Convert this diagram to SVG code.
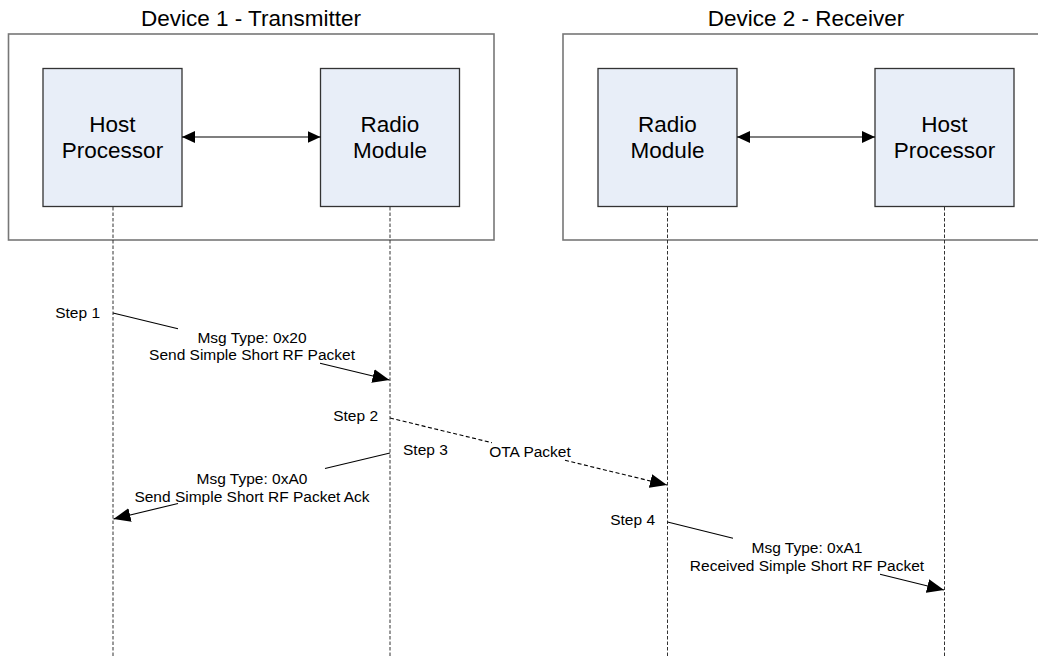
<svg xmlns="http://www.w3.org/2000/svg" width="1038" height="658" viewBox="0 0 1038 658">
<style>
  text { font-family: "Liberation Sans", Arial, sans-serif; fill: #000; }
  .title { font-size: 22.5px; text-anchor: middle; }
  .big { font-size: 22.5px; text-anchor: middle; }
  .small { font-size: 15.5px; }
  .mid { text-anchor: middle; }
  .end { text-anchor: end; }
  .frame { fill: #fff; stroke: #777; stroke-width: 1.6; }
  .box { fill: #e8eef8; stroke: #333; stroke-width: 1.3; }
  .life { stroke: #333; stroke-width: 1; stroke-dasharray: 3.5 2; fill: none; }
  .msg { stroke: #000; stroke-width: 1.1; fill: none; }
  .dash { stroke-dasharray: 4 2.5; }
</style>
<defs>
  <marker id="ah" markerUnits="userSpaceOnUse" markerWidth="18" markerHeight="14" refX="17" refY="7" orient="auto-start-reverse">
    <path d="M0,0 L17,7 L0,14 z" fill="#000"/>
  </marker>
  <marker id="ah2" markerUnits="userSpaceOnUse" markerWidth="14" markerHeight="12" refX="13" refY="6" orient="auto-start-reverse">
    <path d="M0,0 L13,6 L0,12 z" fill="#000"/>
  </marker>
</defs>
<rect width="1038" height="658" fill="#fff"/>

<g id="device1">
  <text class="title" x="251" y="26">Device 1 - Transmitter</text>
  <rect class="frame" x="8.5" y="34" width="485.5" height="206"/>
</g>
<g id="device2">
  <text class="title" x="806" y="26">Device 2 - Receiver</text>
  <rect class="frame" x="563" y="34" width="486" height="206"/>
</g>

<g id="host1">
  <rect class="box" x="43" y="68.5" width="139" height="138"/>
  <text class="big" x="112.5" y="132">Host</text>
  <text class="big" x="112.5" y="158">Processor</text>
</g>
<g id="radio1">
  <rect class="box" x="320.5" y="68.5" width="139" height="138"/>
  <text class="big" x="390" y="132">Radio</text>
  <text class="big" x="390" y="158">Module</text>
</g>
<g id="radio2">
  <rect class="box" x="598" y="68.5" width="139" height="138"/>
  <text class="big" x="667.5" y="132">Radio</text>
  <text class="big" x="667.5" y="158">Module</text>
</g>
<g id="host2">
  <rect class="box" x="875" y="68.5" width="139" height="138"/>
  <text class="big" x="944.5" y="132">Host</text>
  <text class="big" x="944.5" y="158">Processor</text>
</g>

<g id="connectors">
  <line class="msg" x1="182" y1="137" x2="320.5" y2="137" marker-start="url(#ah2)" marker-end="url(#ah2)"/>
  <line class="msg" x1="737" y1="137" x2="875" y2="137" marker-start="url(#ah2)" marker-end="url(#ah2)"/>

  <line class="life" x1="113" y1="207" x2="113" y2="658"/>
  <line class="life" x1="390" y1="207" x2="390" y2="658"/>
  <line class="life" x1="667.5" y1="207" x2="667.5" y2="658"/>
  <line class="life" x1="944.5" y1="207" x2="944.5" y2="658"/>

  <!-- Step 1 -->
  <line class="msg" x1="113" y1="313" x2="178" y2="328.8"/>
  <line class="msg" x1="320" y1="363.3" x2="389.5" y2="380" marker-end="url(#ah)"/>
  <!-- Step 2 -->
  <line class="msg dash" x1="390" y1="418" x2="492" y2="442.7"/>
  <line class="msg dash" x1="565" y1="460.3" x2="667" y2="485" marker-end="url(#ah)"/>
  <!-- Step 3 -->
  <line class="msg" x1="390" y1="453" x2="325" y2="468.5"/>
  <line class="msg" x1="178" y1="503.5" x2="113.5" y2="519" marker-end="url(#ah)"/>
  <!-- Step 4 -->
  <line class="msg" x1="667.5" y1="522" x2="733" y2="538.2"/>
  <line class="msg" x1="880" y1="574.3" x2="944" y2="590" marker-end="url(#ah)"/>
</g>

<g id="labels">
  <text class="small end" x="100" y="318">Step 1</text>
  <text class="small mid" x="252" y="343">Msg Type: 0x20</text>
  <text class="small mid" x="252" y="360">Send Simple Short RF Packet</text>

  <text class="small end" x="378" y="421">Step 2</text>
  <text class="small mid" x="530" y="457">OTA Packet</text>

  <text class="small" x="403" y="455">Step 3</text>
  <text class="small mid" x="252" y="484">Msg Type: 0xA0</text>
  <text class="small mid" x="252" y="502">Send Simple Short RF Packet Ack</text>

  <text class="small end" x="655" y="525">Step 4</text>
  <text class="small mid" x="807" y="553">Msg Type: 0xA1</text>
  <text class="small mid" x="807" y="571">Received Simple Short RF Packet</text>
</g>
</svg>
